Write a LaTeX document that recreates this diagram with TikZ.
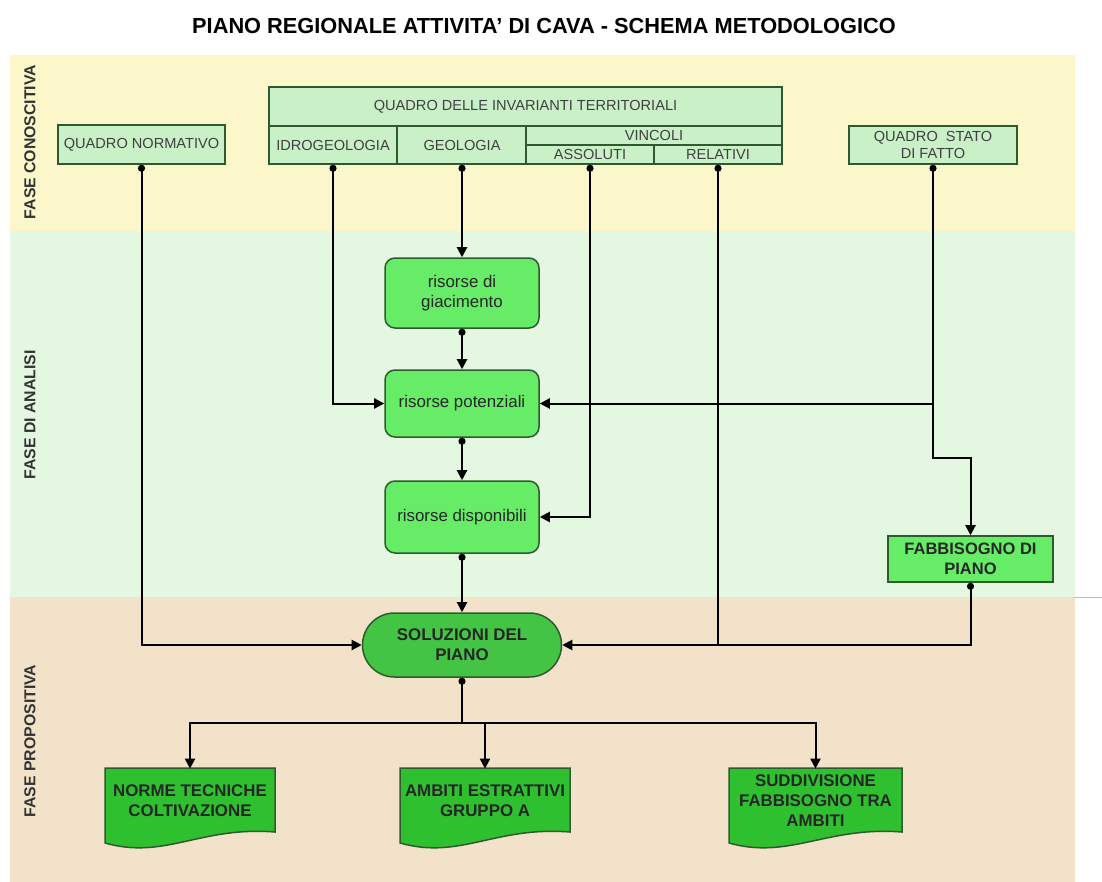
\documentclass[tikz,border=0pt]{standalone}
\usepackage{fontspec}
\setmainfont{Liberation Sans}
\usetikzlibrary{arrows.meta,shapes.misc}
\definecolor{fase_con}{HTML}{FCF7CB}
\definecolor{fase_ana}{HTML}{E3F7E1}
\definecolor{fase_pro}{HTML}{F1E2C9}
\definecolor{quadro_sk}{HTML}{C9F0C6}
\definecolor{risorse_sk}{HTML}{66EC66}
\definecolor{soluz_sk}{HTML}{44C444}
\definecolor{doc_sk}{HTML}{2FC02F}
\definecolor{bordo}{HTML}{2F5A2F}
\newlength{\pxu}
\setlength{\pxu}{0.02cm}

\begin{document}
\begin{tikzpicture}[x=0.02cm,y=-0.02cm,
    titolo/.style={font=\bfseries\fontsize{12.4}{14}\selectfont},
    fase/.style={rotate=90,font=\bfseries\fontsize{9}{11}\selectfont,text=black!80},
    quadro/.style={draw=bordo,line width=1.5\pxu,fill=quadro_sk,inner sep=0pt,
        align=center,text=black!75,font=\fontsize{8.3}{10}\selectfont},
    risorsa/.style={draw=bordo,line width=1.5\pxu,fill=risorse_sk,rounded corners=10\pxu,
        minimum width=154\pxu,inner sep=0pt,align=center,text=black!85,
        font=\fontsize{9.6}{11.4}\selectfont},
    piano/.style={draw=bordo,line width=1.5\pxu,fill=risorse_sk,inner sep=0pt,
        align=center,text=black!85,font=\bfseries\fontsize{9.4}{11.4}\selectfont},
    soluz/.style={rounded rectangle,draw=bordo,line width=1.5\pxu,fill=soluz_sk,
        inner sep=0pt,align=center,text=black!85,font=\bfseries\fontsize{9.6}{11.4}\selectfont},
    docforma/.style={draw=bordo,line width=1.5\pxu,fill=doc_sk},
    doctesto/.style={minimum height=64\pxu,inner sep=0pt,align=center,text=black!85,
        font=\bfseries\fontsize{9.6}{11.4}\selectfont},
    conn/.style={line width=2\pxu,{Circle[length=4pt]}-{Triangle[length=5.7pt,width=5.7pt]}},
    link/.style={line width=2\pxu,{Circle[length=4pt]}-},
    freccia/.style={line width=2\pxu,-{Triangle[length=5.7pt,width=5.7pt]}}]

    \useasboundingbox (0,0) rectangle (1102,882);
    \fill[white] (0,0) rectangle (1102,882);

    % fasce
    \fill[fase_con] (10,55) rectangle (1075,231);
    \fill[fase_ana] (10,231) rectangle (1075,597);
    \fill[fase_pro] (10,597) rectangle (1075,882);
    \draw[black!25,line width=1\pxu] (1073,597) -- (1102,597);

    \node[titolo] (titolo) at (544,26) {PIANO REGIONALE ATTIVITA' DI CAVA - SCHEMA METODOLOGICO};
    \node[fase] (conoscitiva) at (30,142) {FASE CONOSCITIVA};
    \node[fase] (analisi) at (30,415) {FASE DI ANALISI};
    \node[fase] (propositiva) at (30,741) {FASE PROPOSITIVA};

    % fase conoscitiva
    \node[quadro,minimum width=167\pxu,minimum height=39\pxu] (normativo) at (141.5,144.5) {QUADRO NORMATIVO};
    \node[quadro,minimum width=513\pxu,minimum height=39\pxu] (invarianti) at (525.5,106.5) {QUADRO DELLE INVARIANTI TERRITORIALI};
    \node[quadro,minimum width=128\pxu,minimum height=38\pxu] (idro) at (333,145) {IDROGEOLOGIA};
    \node[quadro,minimum width=129\pxu,minimum height=38\pxu] (geo) at (462,145) {GEOLOGIA};
    \node[quadro,minimum width=256\pxu,minimum height=19\pxu] (vincoli) at (654,135.5) {VINCOLI};
    \node[quadro,minimum width=128\pxu,minimum height=19\pxu] (assoluti) at (590,154.5) {ASSOLUTI};
    \node[quadro,minimum width=128\pxu,minimum height=19\pxu] (relativi) at (718,154.5) {RELATIVI};
    \node[quadro,minimum width=168\pxu,minimum height=38\pxu] (statofatto) at (933,145) {QUADRO\ \ STATO\\DI FATTO};

    % fase di analisi
    \node[risorsa,minimum height=70\pxu] (giacimento) at (462,293) {risorse di\\giacimento};
    \node[risorsa,minimum height=67\pxu] (potenziali) at (462,403.5) {risorse potenziali};
    \node[risorsa,minimum height=72\pxu] (disponibili) at (462,517) {risorse disponibili};
    \node[piano,minimum width=165\pxu,minimum height=46\pxu] (fabbisogno) at (970.5,559) {FABBISOGNO DI\\PIANO};

    % fase propositiva
    \node[soluz,minimum width=199\pxu,minimum height=64\pxu] (soluzioni) at (462,645) {SOLUZIONI DEL\\PIANO};
    \foreach \cx/\w in {190/170,485/170,815.5/173}
        \filldraw[docforma] ({\cx-\w/2},768) -- ({\cx+\w/2},768) -- ({\cx+\w/2},832)
            .. controls ({\cx+\w/2-75},826) and ({\cx-\w/2+60},860) .. ({\cx-\w/2},843) -- cycle;
    \node[doctesto] (norme) at (190,801) {NORME TECNICHE\\COLTIVAZIONE};
    \node[doctesto] (ambiti) at (485,801) {AMBITI ESTRATTIVI\\GRUPPO A};
    \node[doctesto] (suddiv) at (815.5,801) {SUDDIVISIONE\\FABBISOGNO TRA\\AMBITI};

    % collegamenti
    \coordinate (gomito) at (933,458);
    \coordinate (nodo) at (statofatto.south |- potenziali.east);
    \coordinate (ramo) at (462,723);

    \draw[conn] (normativo.south) |- (soluzioni.west);
    \draw[conn] (idro.south) |- (potenziali.west);
    \draw[conn] (geo.south) -- (giacimento.north);
    \draw[conn] (giacimento.south) -- (potenziali.north);
    \draw[conn] (potenziali.south) -- (disponibili.north);
    \draw[conn] (disponibili.south) -- (soluzioni.north);
    \draw[conn] (assoluti.south) |- (disponibili.east);
    \draw[link] (relativi.south) -- (relativi.south |- soluzioni.east);
    \draw[conn] (statofatto.south) -- (gomito) -| (fabbisogno.north);
    \draw[freccia] (nodo) -- (potenziali.east);
    \draw[conn] (fabbisogno.south) |- (soluzioni.east);
    \draw[link] (soluzioni.south) -- (ramo);
    \foreach \d in {norme,ambiti,suddiv}
        \draw[freccia] (ramo) -| (\d.north);
\end{tikzpicture}
\end{document}
